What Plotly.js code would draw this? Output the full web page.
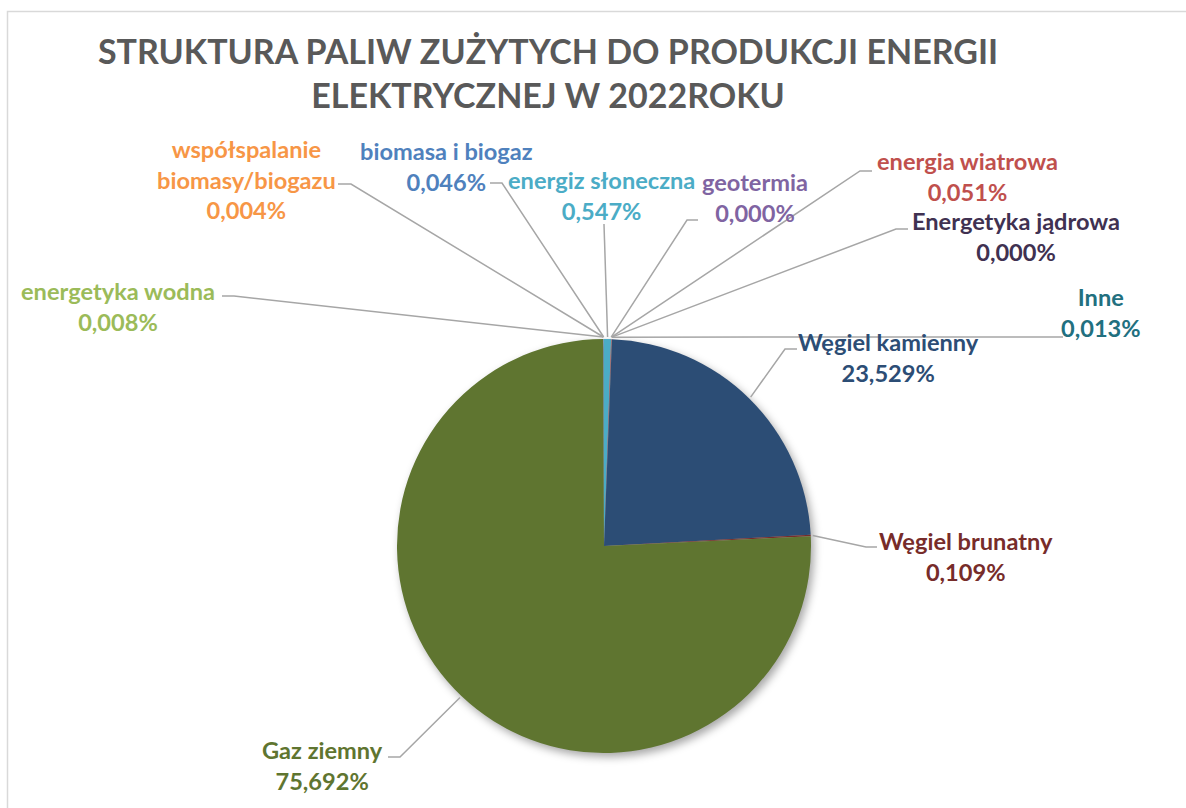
<!DOCTYPE html>
<html><head><meta charset="utf-8">
<script src="https://cdn.plot.ly/plotly-3.0.1.min.js"></script>
<style>
html,body{margin:0;padding:0;background:#fff}
#chart{width:1186px;height:808px}
#chart .pielayer{filter:drop-shadow(3px 4px 4px rgba(0,0,0,0.35))}
</style>
</head><body><div id="chart"></div>
<script>
// ---- data (clockwise from 12 o'clock) ----
const categories = ['energiz słoneczna','geotermia','energia wiatrowa','Energetyka jądrowa','Inne',
  'Węgiel kamienny','Węgiel brunatny','Gaz ziemny','energetyka wodna','współspalanie biomasy/biogazu','biomasa i biogaz'];
const shares = [0.547, 0.000, 0.051, 0.000, 0.013, 23.529, 0.109, 75.692, 0.008, 0.004, 0.046];
const sliceColors = ['#4bacc6','#8064a2','#c0504d','#403151','#2d6e7e','#2c4d75','#772c2a','#5f7530','#9bbb59','#f79646','#4f81bd'];
const labelColors = ['#4bacc6','#8064a2','#c0504d','#403151','#22707f','#2c4d75','#772c2a','#5f7530','#9bbb59','#f79646','#4f81bd'];

// ---- layout (pixels in the 1186x808 page) ----
const W = 1186, H = 808;
const CX = 604, CY = 546, R = 207;
// text block centre and leader stub points (near label first)
const labelPos = [
  {x:601, y:195, lead:[[604,224]]},
  {x:755, y:197, lead:[[698,220],[687,220]]},
  {x:967, y:177, lead:[[872,171],[860,171]]},
  {x:1016, y:237, lead:[[908,229],[896,229]]},
  {x:1101, y:312, lead:[[1063,337]]},
  {x:889, y:357, lead:[[797,349],[785,349]]},
  {x:966, y:556, lead:[[877,547],[866,547]]},
  {x:322, y:765, lead:[[388,757],[400,757]]},
  {x:118, y:306, lead:[[222,296],[234,296]]},
  {x:246, y:180, lead:[[338,184],[351,184]]},
  {x:446, y:167, lead:[[490,183],[502,183]]}
];

const px = x => x / W;
const py = y => 1 - y / H;
const fmt = v => v.toFixed(3).replace('.', ',') + '%';
const wrap = s => s.length > 20 ? s.replace(' ', '<br>') : s;

const total = shares.reduce((a,b)=>a+b,0);
let cum = 0;
const annotations = [], shapes = [];
shares.forEach((v,i)=>{
  const th = 2*Math.PI*(cum + v/2)/total;
  cum += v;
  const ex = CX + (R+2)*Math.sin(th), ey = CY - (R+2)*Math.cos(th);
  const lp = labelPos[i];
  const pts = lp.lead.concat([[ex,ey]]);
  const path = pts.map((p,k)=>(k?'L':'M')+px(p[0]).toFixed(5)+','+py(p[1]).toFixed(5)).join(' ');
  shapes.push({type:'path', xref:'paper', yref:'paper', path, line:{color:'#a6a6a6', width:1.5}});
  annotations.push({
    xref:'paper', yref:'paper', x:px(lp.x), y:py(lp.y), xanchor:'center', yanchor:'middle',
    showarrow:false, align:'center',
    text: wrap(categories[i]) + '<br>' + fmt(v),
    font:{family:'Lato, "Open Sans", sans-serif', size:23.6, color:labelColors[i], weight:'bold'}
  });
});
// chart frame
shapes.push({type:'rect', xref:'paper', yref:'paper', x0:px(7.5), x1:1.02, y0:-0.02, y1:py(11.5),
  line:{color:'#d9d9d9', width:1.5}, layer:'below'});

const trace = {
  type:'pie', labels:categories, values:shares, sort:false, direction:'clockwise', rotation:0,
  marker:{colors:sliceColors, line:{width:0}}, textinfo:'none', hoverinfo:'label+percent',
  showlegend:false,
  domain:{x:[px(CX-R), px(CX+R)], y:[py(CY+R), py(CY-R)]}
};

const layout = {
  width:W, height:H, margin:{l:0,r:0,t:0,b:0}, paper_bgcolor:'#ffffff', showlegend:false,
  title:{text:'STRUKTURA PALIW ZUŻYTYCH DO PRODUKCJI ENERGII<br>ELEKTRYCZNEJ W 2022ROKU',
    x:px(548), xanchor:'center', xref:'paper', y:py(64), yanchor:'middle', yref:'container',
    font:{family:'Lato, "Open Sans", sans-serif', size:34, color:'#595959', weight:'bold'}},
  annotations, shapes
};
Plotly.newPlot('chart', [trace], layout, {displayModeBar:false, staticPlot:true});
</script>
</body></html>
